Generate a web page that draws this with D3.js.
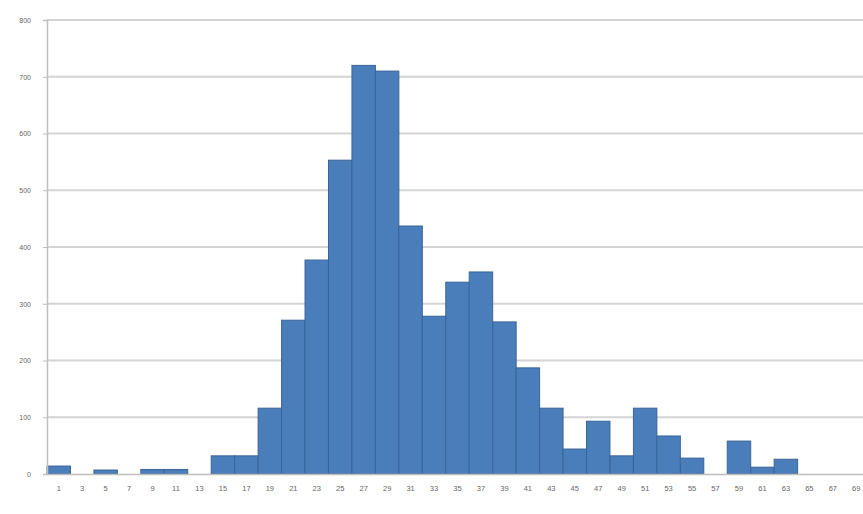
<!DOCTYPE html>
<html>
<head>
<meta charset="utf-8">
<script src="https://cdn.jsdelivr.net/npm/d3@7"></script>
<style>
  html, body { margin: 0; padding: 0; background: #ffffff; }
  svg { display: block; }
  .tick text { font-family: "Liberation Sans", Arial, sans-serif; }
</style>
</head>
<body>
<svg id="chart" width="863" height="514"></svg>
<script>
// Bin labels along the x axis
const categories = [
  "1","3","5","7","9","11","13","15","17","19","21","23","25","27","29","31","33","35",
  "37","39","41","43","45","47","49","51","53","55","57","59","61","63","65","67","69"
];
// Count in each bin
const counts = [
  14, 0, 7, 0, 8, 8, 0, 32, 32, 116, 271, 377, 553, 720, 710, 437, 278, 338,
  356, 268, 187, 116, 44, 93, 32, 116, 67, 28, 0, 58, 12, 26, 0, 0, 0
];
// Value axis ticks
const yTicks = [0, 100, 200, 300, 400, 500, 600, 700, 800];

const svg = d3.select("#chart");
const margin = { left: 47, top: 20, bottom: 40 };
const plotBottom = 514 - margin.bottom;   // 474
const plotRight = 868;                     // last bin runs past the right edge

const x = d3.scaleBand()
  .domain(categories)
  .range([margin.left, plotRight])
  .paddingInner(0)
  .paddingOuter(0);

const y = d3.scaleLinear()
  .domain([0, 800])
  .range([plotBottom, margin.top]);

// Horizontal gridlines
svg.append("g")
  .selectAll("line")
  .data(yTicks.slice(1))
  .join("line")
  .attr("x1", margin.left)
  .attr("x2", 863)
  .attr("y1", d => y(d))
  .attr("y2", d => y(d))
  .attr("stroke", "#d4d4d4")
  .attr("stroke-width", 2);

// Bars
svg.append("g")
  .selectAll("rect")
  .data(categories.map((c, i) => ({ c, v: counts[i] })).filter(d => d.v > 0))
  .join("rect")
  .attr("x", d => x(d.c))
  .attr("y", d => y(d.v))
  .attr("width", x.bandwidth())
  .attr("height", d => plotBottom - y(d.v))
  .attr("fill", "#4a7ebb")
  .attr("stroke", "#3a6496")
  .attr("stroke-width", 1);

// Y axis
const yAxis = svg.append("g")
  .attr("transform", `translate(${margin.left},0)`)
  .call(d3.axisLeft(y).tickValues(yTicks).tickSize(4).tickPadding(12));
yAxis.select(".domain").attr("stroke", "#bfbfbf").attr("stroke-width", 1.5);
yAxis.selectAll(".tick line").attr("stroke", "#bfbfbf");
yAxis.selectAll(".tick text").attr("fill", "#666666").attr("font-size", 7);

// X axis
const xAxis = svg.append("g")
  .attr("transform", `translate(0,${plotBottom})`)
  .call(d3.axisBottom(x).tickSize(0).tickPadding(12));
xAxis.select(".domain").attr("stroke", "#bfbfbf").attr("stroke-width", 1.5);
xAxis.selectAll(".tick text").attr("fill", "#666666").attr("font-size", 7.5);
</script>
</body>
</html>
